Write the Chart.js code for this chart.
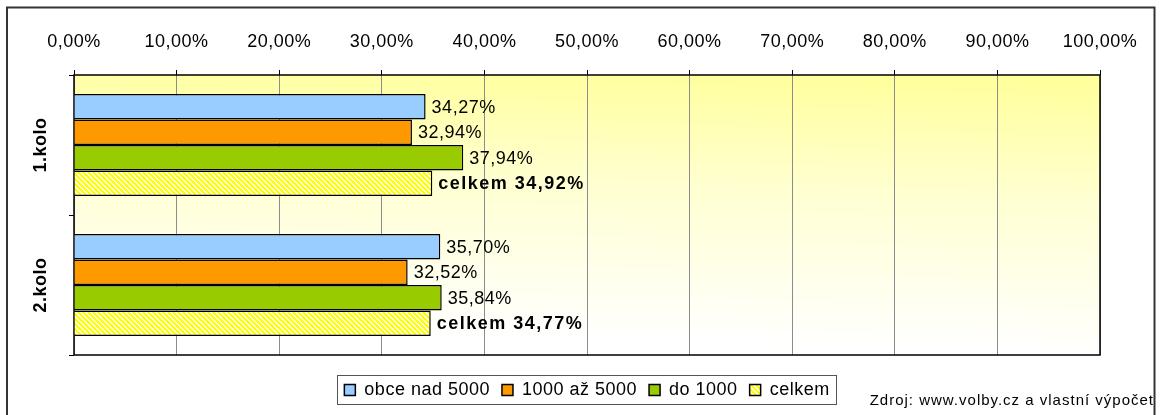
<!DOCTYPE html>
<html>
<head>
<meta charset="utf-8">
<script src="https://cdn.jsdelivr.net/npm/chart.js@4.4.1/dist/chart.umd.min.js"></script>
<style>
  html, body { margin: 0; padding: 0; background: #fff; }
</style>
</head>
<body>
<canvas id="chart" width="1162" height="415"></canvas>
<script>
// data
const rounds = ['1.kolo', '2.kolo'];
const seriesNames = ['obce nad 5000', '1000 až 5000', 'do 1000', 'celkem'];
const bigTowns = [34.27, 35.70];
const midTowns = [32.94, 32.52];
const smallTowns = [37.94, 35.84];
const total = [34.92, 34.77];
const axisMin = 0;
const axisMax = 100;
const axisStep = 10;
const sourceNote = 'Zdroj: www.volby.cz a vlastní výpočet';

const FONT = "'Liberation Sans', Arial, sans-serif";
const canvas = document.getElementById('chart');
const ctx = canvas.getContext('2d');

// formats 34.27 -> "34,27%"
const fmt = v => Number(v).toFixed(2).replace('.', ',') + '%';

// yellow diagonal hatch for "celkem"
function makeHatch() {
    const n = 5;
    const c = document.createElement('canvas');
    c.width = n; c.height = n;
    const g = c.getContext('2d');
    g.fillStyle = '#ffffff';
    g.fillRect(0, 0, n, n);
    g.fillStyle = '#ffff00';
    for (let y = 0; y < n; y++) {
        for (let x = 0; x < n; x++) {
            if ((((x - y) % n) + n) % n < 3) g.fillRect(x, y, 1, 1);
        }
    }
    return ctx.createPattern(c, 'repeat');
}

// the picture's text is a bit wide, so space the letters out a little
const spacing = {
    id: 'spacing',
    beforeLayout(chart) { chart.ctx.letterSpacing = '0.5px'; },
    beforeDraw(chart) { chart.ctx.letterSpacing = '0.5px'; }
};

// plot background: pale yellow at the top fading to white
const plotBg = {
    id: 'plotBg',
    beforeDraw(chart) {
        const a = chart.chartArea;
        const c = chart.ctx;
        const grad = c.createLinearGradient(a.right, a.top, a.right - 8, a.bottom);
        grad.addColorStop(0, '#ffff99');
        grad.addColorStop(0.45, '#ffffd2');
        grad.addColorStop(1, '#ffffff');
        c.save();
        c.fillStyle = grad;
        c.fillRect(a.left, a.top, a.right - a.left, a.bottom - a.top);
        c.restore();
    },
    beforeDatasetsDraw(chart) {
        const a = chart.chartArea;
        const c = chart.ctx;
        c.save();
        c.strokeStyle = '#000';
        c.lineWidth = 1.5;
        c.strokeRect(a.left, a.top, a.right - a.left, a.bottom - a.top);
        c.restore();
    }
};

// value labels right of each bar
const barLabels = {
    id: 'barLabels',
    afterDatasetsDraw(chart) {
        const c = chart.ctx;
        c.save();
        c.fillStyle = '#000';
        c.textBaseline = 'middle';
        c.textAlign = 'left';
        chart.data.datasets.forEach((ds, i) => {
            const meta = chart.getDatasetMeta(i);
            meta.data.forEach((bar, j) => {
                let txt = fmt(ds.data[j]);
                if (ds.label === 'celkem') {
                    c.font = 'bold 18px ' + FONT;
                    c.letterSpacing = '1.5px';
                    txt = 'celkem ' + txt;
                } else {
                    c.font = '18px ' + FONT;
                    c.letterSpacing = '0.5px';
                }
                c.fillText(txt, bar.x + 6, bar.y + 1);
            });
        });
        c.restore();
    }
};

// outer frame, legend box and the source note
const decor = {
    id: 'decor',
    afterLayout(chart) {
        // legend centred under the plot, a bit lower than default
        const lg = chart.legend;
        const a = chart.chartArea;
        const h = lg.bottom - lg.top;
        lg.left = a.left;
        lg.right = a.right;
        lg.width = a.right - a.left;
        lg.top = a.bottom + 14;
        lg.bottom = lg.top + h;
    },
    afterDraw(chart) {
        const c = chart.ctx;
        c.save();
        c.strokeStyle = '#333';
        c.lineWidth = 2;
        c.strokeRect(7, 7.5, chart.width - 14.5, chart.height + 10);

        const boxes = chart.legend.legendHitBoxes;
        if (boxes && boxes.length) {
            const first = boxes[0];
            const last = boxes[boxes.length - 1];
            const mid = first.top + first.height / 2;
            c.strokeStyle = '#555';
            c.lineWidth = 1;
            c.strokeRect(Math.round(first.left - 7) + 0.5, Math.round(mid - 15) + 0.5,
                Math.round(last.left + last.width - first.left + 14), 29);
        }

        c.fillStyle = '#000';
        c.font = '15px ' + FONT;
        c.letterSpacing = '1px';
        c.textAlign = 'right';
        c.textBaseline = 'alphabetic';
        c.fillText(sourceNote, chart.width - 8, 405);
        c.restore();
    }
};

const values = [bigTowns, midTowns, smallTowns, total];
const fills = ['#99ccff', '#ff9900', '#99cc00', makeHatch()];

new Chart(ctx, {
    type: 'bar',
    data: {
        labels: rounds,
        datasets: seriesNames.map((name, i) => ({
            label: name,
            data: values[i],
            backgroundColor: fills[i],
            borderColor: '#000',
            borderWidth: 1.5
        }))
    },
    options: {
        indexAxis: 'y',
        responsive: false,
        animation: false,
        layout: { padding: { left: 0, right: 62, top: 0, bottom: 20 } },
        datasets: { bar: { categoryPercentage: 0.727, barPercentage: 1 } },
        scales: {
            x: {
                position: 'top',
                min: axisMin,
                max: axisMax,
                ticks: {
                    stepSize: axisStep,
                    padding: 17,
                    color: '#000',
                    font: { family: FONT, size: 18 },
                    callback: v => fmt(v)
                },
                grid: { color: '#8c8c8c', tickColor: '#000', tickLength: 5, lineWidth: 1 },
                border: { display: false },
                afterFit: s => { s.height = 75; }
            },
            y: {
                ticks: {
                    minRotation: 90,
                    maxRotation: 90,
                    crossAlign: 'center',
                    padding: 0,
                    color: '#000',
                    font: { family: FONT, size: 18, weight: 'bold' }
                },
                grid: { drawOnChartArea: false, tickLength: 5, tickColor: '#000', offset: true },
                border: { display: false },
                afterFit: s => { s.width = 74; }
            }
        },
        plugins: {
            legend: {
                position: 'bottom',
                labels: {
                    boxWidth: 11,
                    boxHeight: 11,
                    padding: 12,
                    color: '#000',
                    font: { family: FONT, size: 18 }
                }
            },
            tooltip: { enabled: false }
        }
    },
    plugins: [spacing, plotBg, barLabels, decor]
});
</script>
</body>
</html>
